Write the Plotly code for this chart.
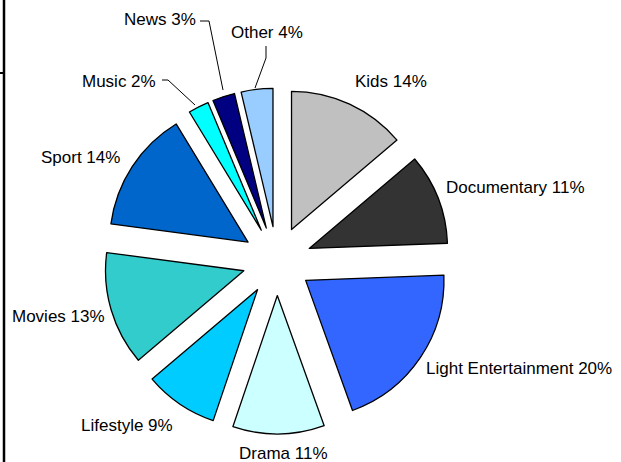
import plotly.graph_objects as go

# ---- data ----
categories = ["Kids", "Documentary", "Light Entertainment", "Drama", "Lifestyle",
              "Movies", "Sport", "Music", "News", "Other"]
shares = [13.8, 10.6, 20.1, 10.7, 8.6, 13.3, 14.2, 2.4, 2.6, 3.7]
colors = ["#C0C0C0", "#333333", "#3366FF", "#CCFFFF", "#00CCFF",
          "#33CCCC", "#0066CC", "#00FFFF", "#000080", "#99CCFF"]

W, H = 621, 462


def px(x, y):
    return x / W, 1 - y / H


fig = go.Figure(go.Pie(
    labels=categories,
    values=shares,
    sort=False,
    direction="clockwise",
    rotation=0,
    pull=0.25,
    textinfo="none",
    hoverinfo="label+percent",
    marker=dict(colors=colors, line=dict(color="black", width=1.3)),
    domain=dict(x=[104.1 / W, 449.9 / W], y=[1 - 433.9 / H, 1 - 88.1 / H]),
    showlegend=False,
))

# label placement (pixel centres, anchors)
label_pos = {
    "Kids": (391, 81, "center"),
    "Documentary": (515, 187, "center"),
    "Light Entertainment": (519, 368, "center"),
    "Drama": (283, 453, "center"),
    "Lifestyle": (127, 425, "center"),
    "Movies": (58, 316, "center"),
    "Sport": (122, 157, "right"),
    "Music": (158, 81, "right"),
    "News": (198, 20, "right"),
    "Other": (267, 33, "center"),
}

for name, v in zip(categories, shares):
    x, y, anc = label_pos[name]
    xp, yp = px(x, y)
    fig.add_annotation(x=xp, y=yp, xref="paper", yref="paper",
                       text=f"{name} {round(v)}%", showarrow=False,
                       xanchor=anc, yanchor="middle",
                       font=dict(family="Liberation Sans, Arial, sans-serif",
                                 size=17, color="black"))

# leader lines
leaders = [
    [(162, 80), (168, 80), (195, 105)],
    [(200, 21), (209, 21), (223, 90)],
    [(266, 46), (266, 58), (255, 88)],
]
for pts in leaders:
    path = ""
    for i, (x, y) in enumerate(pts):
        xp, yp = px(x, y)
        path += ("M" if i == 0 else "L") + f"{xp},{yp} "
    fig.add_shape(type="path", path=path.strip(), xref="paper", yref="paper",
                  line=dict(color="black", width=1))

# frame fragments on the left
fig.add_shape(type="line", xref="paper", yref="paper",
              x0=4 / W, x1=4 / W, y0=0, y1=1, line=dict(color="black", width=2.5))
fig.add_shape(type="line", xref="paper", yref="paper",
              x0=0, x1=4 / W, y0=1 - 73 / H, y1=1 - 73 / H,
              line=dict(color="black", width=2))

fig.update_layout(width=W, height=H, margin=dict(l=0, r=0, t=0, b=0),
                  paper_bgcolor="white", plot_bgcolor="white")

fig.write_html("out.html",
               config={"displayModeBar": False},
               post_script="document.body.style.margin='0px';"
                           "document.body.style.overflow='hidden';")
